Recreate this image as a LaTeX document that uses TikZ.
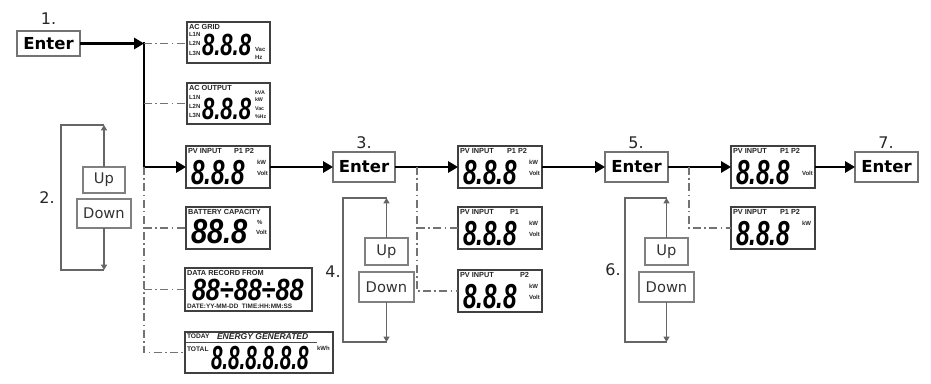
\documentclass[tikz,border=0pt]{standalone}
\usepackage{fontspec}
\setmainfont{DejaVu Sans}
\newfontfamily\lcdfont{Liberation Sans}
\usetikzlibrary{arrows.meta,fit}
\newcommand\lcddigits[3]{{\lcdfont\bfseries\itshape\fontsize{#1}{#1}\selectfont\scalebox{#2}[1]{#3}}}
\tikzset{
 every node/.style={inner sep=0pt, outer sep=0pt},
 sz/.style 2 args={minimum width=#1*0.75pt, minimum height=#2*0.75pt},
 enterbox/.style={draw=black!55, line width=1pt, font=\fontsize{12.4}{14}\selectfont\bfseries},
 udbox/.style={draw=black!50, line width=0.9pt, font=\fontsize{11}{13}\selectfont, text=black!80},
 lcdbox/.style={draw=black!75, line width=1.1pt},
 lcdlab/.style={font=\lcdfont\fontsize{5.5}{6}\selectfont\bfseries, text=black!85, anchor=north west},
 lcdunit/.style={font=\lcdfont\fontsize{4.5}{5}\selectfont\bfseries, text=black!85, anchor=west},
 numlab/.style={font=\fontsize{12}{14}\selectfont, text=black!85},
 mainarr/.style={line width=1.6pt, -{Triangle[length=7.5pt,width=8.5pt]}},
 mainline/.style={line width=1.6pt, line cap=rect},
 ddline/.style={draw=black!55, line width=0.9pt, dash pattern=on 6pt off 2.5pt on 1.2pt off 2.5pt},
 brk/.style={draw=black!60, line width=0.8pt},
 udarr/.style={draw=black!60, line width=0.8pt, -{Triangle[length=4pt,width=4.5pt]}},
}
% name, x, y, label offset, label, unit1, unit2
\newcommand\pvlcd[7]{%
 \node[lcdbox, fit={(#2,#3)(#2+84,#3+42)}] (#1) {};
 \node[lcdlab] at ([shift={(2,2.5)}]#1.north west) {PV INPUT};
 \node[lcdlab] at ([shift={(#4,2.5)}]#1.north west) {#5};
 \node[anchor=base west] at ([shift={(5,39)}]#1.north west) {\lcddigits{26}{0.7}{8.8.8}};
 \node[lcdunit] at ([shift={(71,16)}]#1.north west) {#6};
 \node[lcdunit] at ([shift={(71,27)}]#1.north west) {#7};
}
\begin{document}
\begin{tikzpicture}[x=0.75pt,y=-0.75pt]
\useasboundingbox (0,0) rectangle (931,384);

% ---------- step 1 ----------
\node[numlab] (n1) at (48.5,19) {1.};
\node[enterbox, sz={63}{25}] (e1) at (48.5,43.5) {Enter};
\coordinate (j1) at (144,43.5);
\coordinate (j2) at (144,167);

% AC GRID
\node[lcdbox, fit={(187,22)(270,63)}] (acgrid) {};
\node[lcdlab] at ([shift={(2,2)}]acgrid.north west) {AC GRID};
\node[lcdunit] at ([shift={(2,12)}]acgrid.north west) {L1N};
\node[lcdunit] at ([shift={(2,21.5)}]acgrid.north west) {L2N};
\node[lcdunit] at ([shift={(2,31)}]acgrid.north west) {L3N};
\node[anchor=base west] at ([shift={(15,34)}]acgrid.north west) {\lcddigits{23}{0.72}{8.8.8}};
\node[lcdunit] at ([shift={(68,27)}]acgrid.north west) {Vac};
\node[lcdunit] at ([shift={(68,35)}]acgrid.north west) {Hz};

% AC OUTPUT
\node[lcdbox, fit={(187,83)(270,124)}] (acout) {};
\node[lcdlab] at ([shift={(2,2)}]acout.north west) {AC OUTPUT};
\node[lcdunit] at ([shift={(2,14)}]acout.north west) {L1N};
\node[lcdunit] at ([shift={(2,23.5)}]acout.north west) {L2N};
\node[lcdunit] at ([shift={(2,32.5)}]acout.north west) {L3N};
\node[anchor=base west] at ([shift={(15,37)}]acout.north west) {\lcddigits{23}{0.72}{8.8.8}};
\node[lcdunit, font=\lcdfont\fontsize{4}{4.5}\selectfont\bfseries] at ([shift={(68,10)}]acout.north west) {kVA};
\node[lcdunit, font=\lcdfont\fontsize{4}{4.5}\selectfont\bfseries] at ([shift={(68,17)}]acout.north west) {kW};
\node[lcdunit, font=\lcdfont\fontsize{4}{4.5}\selectfont\bfseries] at ([shift={(68,25.5)}]acout.north west) {Vac};
\node[lcdunit, font=\lcdfont\fontsize{4}{4.5}\selectfont\bfseries] at ([shift={(68,33.5)}]acout.north west) {\%Hz};

% PV INPUT (first)
\pvlcd{pv1}{186}{146}{48}{P1 P2}{kW}{Volt}

% BATTERY
\node[lcdbox, fit={(186,207)(270,249)}] (batt) {};
\node[lcdlab] at ([shift={(2,2.5)}]batt.north west) {BATTERY CAPACITY};
\node[anchor=base west] at ([shift={(5,37)}]batt.north west) {\lcddigits{26}{0.84}{88.8}};
\node[lcdunit] at ([shift={(71,15)}]batt.north west) {\%};
\node[lcdunit] at ([shift={(70,25)}]batt.north west) {Volt};

% DATA RECORD
\node[lcdbox, fit={(185,268)(312,311)}] (data) {};
\node[lcdlab] at ([shift={(2,2)}]data.north west) {DATA RECORD FROM};
\node[anchor=base west] at ([shift={(7,33)}]data.north west) {\lcddigits{23}{0.82}{88÷88÷88}};
\node[lcdunit, font=\lcdfont\fontsize{4.8}{5}\selectfont\bfseries] at ([shift={(2,38.5)}]data.north west) {DATE:YY-MM-DD\ \ TIME:HH:MM:SS};

% ENERGY
\node[lcdbox, fit={(185,332)(333,373)}] (energy) {};
\node[lcdunit, font=\lcdfont\fontsize{5}{5.5}\selectfont\bfseries] at ([shift={(2,4.5)}]energy.north west) {TODAY};
\node[lcdunit, font=\lcdfont\fontsize{6.4}{7}\selectfont\bfseries\itshape] at ([shift={(32,4.5)}]energy.north west) {ENERGY GENERATED};
\draw[black!70, line width=0.5pt] ([shift={(1,10)}]energy.north west) -- ([shift={(132,10)}]energy.north west);
\node[lcdunit, font=\lcdfont\fontsize{5}{5.5}\selectfont\bfseries] at ([shift={(2,17)}]energy.north west) {TOTAL};
\node[anchor=base west] at ([shift={(26,37)}]energy.north west) {\lcddigits{25}{0.62}{8.8.8.8.8.8}};
\node[lcdunit] at ([shift={(132,16)}]energy.north west) {kWh};

% connectors step 1
\draw[mainline] (j1) -- (j2);
\draw[mainarr] (e1.east) -- (j1);
\draw[mainarr] (j2) -- (pv1.west);
\draw[ddline] (j1) -- (j1 -| acgrid.west);
\draw[ddline] (acout.west -| j1) -- (acout.west);
\draw[ddline] (j2) -- (j2 |- energy.west) -- (energy.west);
\draw[ddline] (batt.west -| j2) -- (batt.west);
\draw[ddline] (data.west -| j2) -- (data.west);

% ---------- step 2 ----------
\node[udbox, sz={42}{26}] (up2) at (104,180) {Up};
\node[udbox, sz={54}{29}] (down2) at (104,213.5) {Down};
\coordinate (t2) at (104,125);
\coordinate (tl2) at (61,125);
\coordinate (bl2) at (61,270);
\coordinate (b2) at (104,270);
\draw[brk] (t2) -- (tl2) -- (bl2) -- (b2);
\draw[udarr] (up2.north) -- (t2);
\draw[udarr] (down2.south) -- (b2);
\node[numlab] (n2) at (47,198) {2.};

% ---------- step 3 ----------
\node[numlab] (n3) at (364,143) {3.};
\node[enterbox, sz={62}{30}] (e3) at (364,167) {Enter};
\pvlcd{pv2}{458}{146}{49}{P1 P2}{kW}{Volt}
\pvlcd{pv3}{458}{207}{52}{P1}{kW}{Volt}
\pvlcd{pv4}{458}{270}{62}{P2}{kW}{Volt}
\coordinate (j3) at (417,167);
\draw[mainarr] (pv1.east) -- (e3.west);
\draw[mainarr] (e3.east) -- (pv2.west);
\draw[ddline] (j3) -- (j3 |- pv4.west) -- (pv4.west);
\draw[ddline] (pv3.west -| j3) -- (pv3.west);

% ---------- step 4 ----------
\node[udbox, sz={43}{27}] (up4) at (386.5,251.5) {Up};
\node[udbox, sz={55}{30}] (down4) at (386.5,287) {Down};
\coordinate (t4) at (386.5,198);
\coordinate (tl4) at (343,198);
\coordinate (bl4) at (343,342);
\coordinate (b4) at (386.5,342);
\draw[brk] (t4) -- (tl4) -- (bl4) -- (b4);
\draw[udarr] (up4.north) -- (t4);
\draw[udarr] (down4.south) -- (b4);
\node[numlab] (n4) at (333,272) {4.};

% ---------- step 5 ----------
\node[numlab] (n5) at (636,143) {5.};
\node[enterbox, sz={63}{30}] (e5) at (636.5,167) {Enter};
\pvlcd{pv5}{731}{146}{49}{P1 P2}{}{Volt}
\pvlcd{pv6}{731}{207}{49}{P1 P2}{kW}{}
\coordinate (j5) at (689,167);
\draw[mainarr] (pv2.east) -- (e5.west);
\draw[mainarr] (e5.east) -- (pv5.west);
\draw[ddline] (j5) -- (j5 |- pv6.west) -- (pv6.west);

% ---------- step 6 ----------
\node[udbox, sz={43}{27}] (up6) at (666.5,251.5) {Up};
\node[udbox, sz={55}{30}] (down6) at (666.5,287) {Down};
\coordinate (t6) at (666.5,198);
\coordinate (tl6) at (625,198);
\coordinate (bl6) at (625,342);
\coordinate (b6) at (666.5,342);
\draw[brk] (t6) -- (tl6) -- (bl6) -- (b6);
\draw[udarr] (up6.north) -- (t6);
\draw[udarr] (down6.south) -- (b6);
\node[numlab] (n6) at (613,270) {6.};

% ---------- step 7 ----------
\node[numlab] (n7) at (886,143) {7.};
\node[enterbox, sz={63}{30}] (e7) at (886.5,167) {Enter};
\draw[mainarr] (pv5.east) -- (e7.west);
\end{tikzpicture}
\end{document}
